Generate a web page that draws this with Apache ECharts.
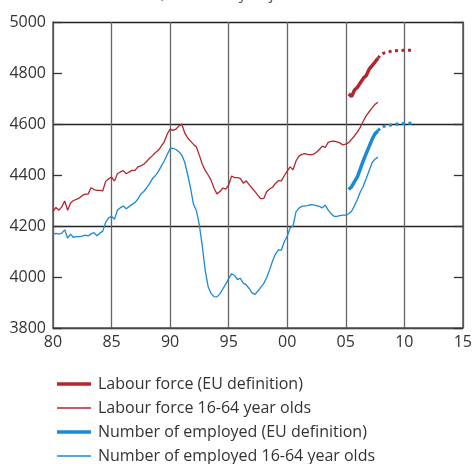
<!DOCTYPE html>
<html>
<head>
<meta charset="utf-8">
<script src="https://cdn.jsdelivr.net/npm/echarts@6/dist/echarts.min.js"></script>
<style>
  html, body { margin: 0; padding: 0; background: #fff; }
  #main { width: 475px; height: 464px; }
</style>
</head>
<body>
<div id="main"></div>
<script>
// quarterly data, index 0 = 1980 Q1
const startYear = 1980;

const lf1664 = [
  4256, 4273, 4262, 4275, 4298, 4262, 4290, 4300, 4304, 4310,
  4320, 4325, 4325, 4350, 4343, 4340, 4340, 4338, 4375, 4385,
  4392, 4376, 4405, 4412, 4417, 4405, 4412, 4418, 4418, 4432,
  4436, 4442, 4453, 4466, 4476, 4488, 4497, 4513, 4530, 4560,
  4580, 4575, 4580, 4592, 4600, 4565, 4545, 4533, 4520, 4510,
  4477, 4442, 4418, 4400, 4380, 4348, 4326, 4335, 4349, 4345,
  4361, 4396, 4390, 4390, 4387, 4368, 4377, 4362, 4348, 4335,
  4320, 4307, 4308, 4335, 4345, 4352, 4367, 4378, 4377, 4397,
  4415, 4432, 4420, 4455, 4474, 4481, 4484, 4481, 4479, 4482,
  4489, 4500, 4513, 4508, 4528, 4532, 4533, 4530, 4526, 4518,
  4521, 4527, 4540, 4554, 4569, 4588, 4612, 4633, 4648, 4663,
  4677, 4685
];

const emp1664 = [
  4167, 4171, 4168, 4172, 4185, 4152, 4168, 4155, 4158, 4158,
  4160, 4164, 4161, 4169, 4174, 4162, 4172, 4180, 4215, 4232,
  4238, 4226, 4262, 4272, 4278, 4268, 4276, 4285, 4292, 4306,
  4325, 4335, 4350, 4367, 4386, 4398, 4414, 4435, 4455, 4480,
  4503, 4505, 4500, 4491, 4478, 4450, 4402, 4348, 4285, 4260,
  4203, 4120, 4025, 3962, 3935, 3923, 3922, 3934, 3953, 3972,
  3993, 4013, 4006, 3990, 3995, 3976, 3969, 3955, 3938, 3932,
  3945, 3960, 3975, 3998, 4028, 4063, 4090, 4106, 4105, 4138,
  4160, 4192, 4200, 4255, 4270, 4277, 4279, 4280, 4284, 4283,
  4280, 4277, 4271, 4282, 4262, 4248, 4238, 4238, 4241, 4243,
  4243, 4248, 4258, 4280, 4305, 4334, 4357, 4386, 4418, 4448,
  4462, 4470
];

// EU definition series start 2005 Q2 (index 101)
const euStart = 101;
const lfEU = [4718, 4708, 4733, 4744, 4762, 4779, 4790, 4815, 4829, 4843, 4858];
const empEU = [4343, 4354, 4374, 4394, 4425, 4456, 4485, 4512, 4540, 4562, 4573];

// forecast (dotted) from 2007 Q4 (index 111)
const fcStart = 111;
const lfEUForecast = [4858, 4873, 4878, 4881, 4884, 4886, 4887, 4888, 4888, 4889, 4889, 4889, 4889];
const empEUForecast = [4573, 4587, 4591, 4593, 4595, 4597, 4599, 4600, 4601, 4602, 4603, 4603, 4603];

const names = [
  'Labour force (EU definition)',
  'Labour force 16-64 year olds',
  'Number of employed (EU definition)',
  'Number of employed 16-64 year olds'
];

const red = '#b3262e';
const blue = '#1a8ad6';

function toPoints(values, offset) {
  return values.map((v, i) => [startYear + (offset + i) / 4, v]);
}

function lineSeries(name, data, color, width, type) {
  return {
    name: name,
    type: 'line',
    data: data,
    symbol: 'none',
    silent: true,
    lineStyle: { color: color, width: width, type: type || 'solid' },
    itemStyle: { color: color },
    z: width > 2 ? 3 : 2
  };
}

function legendRow(name, top, height) {
  return {
    data: [name],
    left: 52,
    top: top,
    icon: 'rect',
    itemWidth: 34,
    itemHeight: height,
    selectedMode: false,
    textStyle: {
      fontFamily: 'Open Sans',
      fontSize: 16,
      color: '#333',
      padding: [0, 0, 0, 2]
    }
  };
}

let chart = echarts.init(document.getElementById('main'), null, { renderer: 'canvas' });

const option = {
  animation: false,
  textStyle: { fontFamily: 'Open Sans' },
  // subtitle is cut off at the top edge in the original
  title: {
    text: 'Thousands, seasonally adjusted data',
    left: 74,
    top: -19,
    textStyle: { fontSize: 16, fontWeight: 'normal', color: '#555', fontFamily: 'Open Sans' }
  },
  grid: { left: 53, right: 9, top: 22, bottom: 136 },
  legend: [
    legendRow(names[0], 371, 3.5),
    legendRow(names[1], 395, 1.5),
    legendRow(names[2], 419, 3.5),
    legendRow(names[3], 443, 1.5)
  ],
  xAxis: {
    type: 'value',
    min: 1980,
    max: 2015,
    interval: 5,
    axisLine: { show: true, lineStyle: { color: '#555', width: 1.5 } },
    axisTick: { show: false },
    axisLabel: {
      fontSize: 16,
      color: '#333',
      margin: 6,
      formatter: v => String(v).slice(2)
    },
    splitLine: { show: true, lineStyle: { color: '#666', width: 1.3 } }
  },
  yAxis: [{
    type: 'value',
    min: 3800,
    max: 5000,
    interval: 200,
    axisLine: { show: true, lineStyle: { color: '#555', width: 1.5 } },
    axisTick: { show: true, inside: true, length: 9, lineStyle: { color: '#333', width: 1.3 } },
    axisLabel: { fontSize: 16, color: '#333', margin: 7, formatter: v => String(v) },
    splitLine: { show: true, lineStyle: { color: ['#222', 'rgba(0,0,0,0)'], width: 1.3 } }
  }, {
    type: 'value',
    position: 'right',
    min: 3800,
    max: 5000,
    interval: 200,
    axisLine: { show: true, lineStyle: { color: '#555', width: 1.5 } },
    axisTick: { show: true, inside: true, length: 9, lineStyle: { color: '#333', width: 1.3 } },
    axisLabel: { show: false },
    splitLine: { show: false }
  }],
  series: [
    lineSeries(names[1], toPoints(lf1664, 0), red, 1.3),
    lineSeries(names[3], toPoints(emp1664, 0), blue, 1.3),
    lineSeries(names[0], toPoints(lfEU, euStart), red, 3.5),
    lineSeries(names[2], toPoints(empEU, euStart), blue, 3.5),
    lineSeries('lf forecast', toPoints(lfEUForecast, fcStart), red, 3, [3, 3.5]),
    lineSeries('emp forecast', toPoints(empEUForecast, fcStart), blue, 3, [3, 3.5])
  ]
};

chart.setOption(option);
</script>
</body>
</html>
